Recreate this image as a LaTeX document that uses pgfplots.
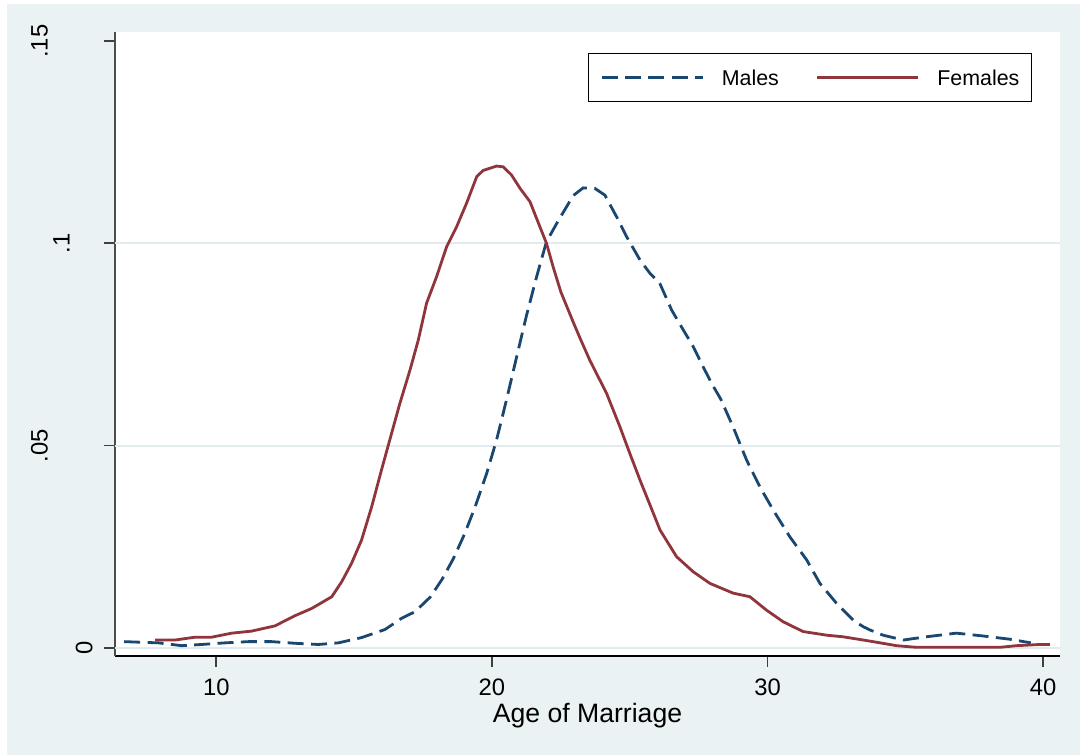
\documentclass[border=0pt]{standalone}
\usepackage{fontspec}
\setmainfont{Liberation Sans}
\usepackage{pgfplots}
\pgfplotsset{compat=1.18}

\definecolor{stbg}{RGB}{234,242,243}
\definecolor{stgrid}{RGB}{226,236,239}
\definecolor{stnavy}{RGB}{26,71,111}
\definecolor{stmaroon}{RGB}{144,53,59}

\begin{document}
\begin{tikzpicture}[x=1pt,y=1pt]
% page and Stata-style outer background
\fill[white] (-57.5,-49.5) rectangle (482.5,328);
\fill[stbg] (-54,-49.5) rectangle (482.5,326);
\begin{axis}[
    at={(0,0)}, anchor=south west,
    scale only axis, width=472.5pt, height=312pt,
    xmin=6.326, xmax=40.61,
    ymin=-0.00205, ymax=0.15225,
    axis background/.style={fill=white},
    axis lines*=left,
    axis line style={-},
    x axis line style={black, line width=0.8pt},
    y axis line style={black!70, line width=0.8pt},
    tick align=outside,
    major tick length=5.5pt,
    tick style={black!75, line width=0.8pt},
    xtick={10,20,30,40},
    xticklabels={10,20,30,40},
    ytick={0,0.05,0.1,0.15},
    yticklabels={0,\raisebox{22.5pt}{.05},\raisebox{11.5pt}{.1},\raisebox{22.5pt}{.15}},
    /pgf/number format/assume math mode=true,
    xticklabel style={font=\fontsize{11.9}{14}\selectfont, inner ysep=5.5pt},
    yticklabel style={font=\fontsize{11.9}{14}\selectfont, rotate=90, anchor=south, inner ysep=5.5pt},
    extra y ticks={0,0.05,0.1},
    extra y tick labels={},
    extra y tick style={ymajorgrids=true, major tick length=0pt},
    major grid style={stgrid, line width=1pt},
    xlabel={Age of Marriage},
    xlabel style={font=\fontsize{13.3}{15}\selectfont, at={(axis description cs:0.5,0)}, anchor=base, yshift=-33pt},
    legend columns=2,
    legend image code/.code={\draw[#1] (0pt,0pt) -- (50.5pt,0pt);},
    legend style={
        at={(rel axis cs:0.9704,0.9663)}, anchor=north east,
        draw=black, line width=0.6pt, fill=white,
        font=\fontsize{10.7}{12}\selectfont,
        inner xsep=6pt, inner ysep=8pt,
        nodes={inner sep=0pt, text depth=0pt},
        /tikz/every odd column/.append style={column sep=8.85pt},
        /tikz/every even column/.append style={column sep=18.5pt},
    },
]
\addplot[stnavy, line width=1.4pt, dash pattern=on 8pt off 3.7pt] coordinates {
(6.66,0.0015) (7.90,0.0012) (8.75,0.0005) (9.47,0.0008) (10.32,0.0012)
(11.16,0.0015) (12.01,0.0015) (12.85,0.0011) (13.70,0.0008) (14.43,0.0012)
(15.27,0.0025) (16.12,0.0045) (16.73,0.0073) (17.21,0.0089) (17.76,0.0125)
(18.2,0.017) (18.6,0.022) (19.0,0.028) (19.4,0.035) (19.81,0.0431)
(20.17,0.0514) (20.53,0.0613) (20.90,0.0720) (21.26,0.0823) (21.62,0.0917)
(21.98,0.1004) (22.40,0.1055) (22.95,0.1118) (23.31,0.1137) (23.73,0.1136)
(24.10,0.1119) (24.52,0.1066) (24.89,0.1016) (25.37,0.0959) (25.73,0.0926)
(26.09,0.0901) (26.52,0.0835) (26.94,0.0786) (27.30,0.0745) (27.66,0.0695)
(28.0,0.0650) (28.3,0.0615) (28.75,0.0546) (29.24,0.0464) (29.72,0.0398)
(30.20,0.0341) (30.81,0.0274) (31.42,0.0217) (31.90,0.0159) (32.50,0.0110)
(33.11,0.0068) (33.47,0.0052) (33.71,0.0044) (34.19,0.0031) (34.92,0.0019)
(35.76,0.0027) (36.85,0.0036) (37.82,0.0029) (38.79,0.0021) (39.55,0.0012)
};
\addlegendentry{Males}
\addplot[stmaroon, line width=1.4pt] coordinates {
(7.78,0.0019) (8.5,0.0019) (9.23,0.0026) (9.83,0.0026) (10.56,0.0036)
(11.28,0.0041) (12.13,0.0054) (12.85,0.0079) (13.46,0.0097) (14.19,0.0126)
(14.55,0.0163) (14.91,0.0209) (15.27,0.0266) (15.64,0.0349) (16.0,0.0441)
(16.36,0.0530) (16.66,0.0604) (17.03,0.0687) (17.33,0.0761) (17.63,0.0852)
(17.99,0.0917) (18.36,0.0992) (18.72,0.1041) (19.08,0.1099) (19.45,0.1165)
(19.68,0.1180) (20.17,0.1191) (20.41,0.1189) (20.71,0.1169) (21.02,0.1136)
(21.38,0.1103) (21.74,0.1041) (21.98,0.1000) (22.22,0.0942) (22.5,0.0880)
(22.95,0.0805) (23.2,0.0765) (23.55,0.0711) (24.16,0.0629) (24.64,0.0547)
(25.0,0.0481) (25.37,0.0415) (26.1,0.0291) (26.7,0.0225) (27.3,0.0188)
(27.91,0.0159) (28.75,0.0135) (29.36,0.0126) (29.96,0.0093) (30.57,0.0064)
(31.29,0.0040) (32.14,0.0031) (32.74,0.0027) (33.47,0.0019) (34.0,0.0013)
(34.68,0.0005) (35.4,0.0001) (38.43,0.0001) (39.03,0.0005) (39.88,0.0008)
(40.24,0.0008)
};
\addlegendentry{Females}
\end{axis}
\end{tikzpicture}
\end{document}
